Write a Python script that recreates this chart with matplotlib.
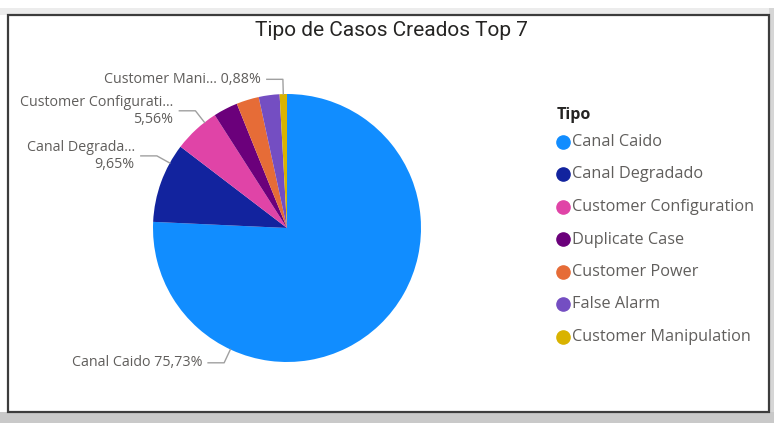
import numpy as np
import matplotlib
matplotlib.use("Agg")
from matplotlib import pyplot as plt
from matplotlib.patches import Rectangle

# data
categories = ["Canal Caido", "Canal Degradado", "Customer Configuration",
              "Duplicate Case", "Customer Power", "False Alarm", "Customer Manipulation"]
shares = [75.73, 9.65, 5.56, 2.95, 2.72, 2.51, 0.88]
colors = ["#118DFF", "#12239E", "#E044A7", "#6B007B", "#E66C37", "#744EC2", "#D9B300"]

# slice labels as shown (index, name text)
label_names = {0: "Canal Caido", 1: "Canal Degrada...", 2: "Customer Configurati...",
               6: "Customer Mani..."}
two_line = {1, 2}

W, H = 774, 423
CX, CY, R = 287, 228, 134   # pie centre / radius in pixels

plt.rcParams["font.family"] = ["Open Sans", "DejaVu Sans"]
fig = plt.figure(figsize=(W / 100, H / 100), dpi=100, facecolor="white")

# card frame with shadow
bg = fig.add_axes([0, 0, 1, 1])
bg.set_xlim(0, W)
bg.set_ylim(H, 0)
bg.axis("off")
bg.add_patch(Rectangle((0, 412), W, 11, color="#c9c9c9", lw=0))
bg.add_patch(Rectangle((0, 8), W, 7, color="#ececec", lw=0))
bg.add_patch(Rectangle((769, 8), 5, 404, color="#d6d6d6", lw=0))
bg.add_patch(Rectangle((8, 15), 761, 397, facecolor="white", edgecolor="#3c3c3c", lw=1.6))

bg.text(391, 30, "Tipo de Casos Creados Top 7", ha="center", va="center",
        fontsize=15, color="#252423", family="Roboto")

# pie axes: 1 data unit = R pixels
left_px, right_px, top_px, bot_px = 20, 540, 45, 405
ax = fig.add_axes([left_px / W, (H - bot_px) / H, (right_px - left_px) / W, (bot_px - top_px) / H])
wedges, _ = ax.pie(shares, colors=colors, startangle=90, counterclock=False,
                   wedgeprops=dict(linewidth=0))
ax.set_aspect("auto")
ax.set_xlim((left_px - CX) / R, (right_px - CX) / R)
ax.set_ylim((CY - bot_px) / R, (CY - top_px) / R)
ax.axis("off")

# leader lines and labels
cum = np.cumsum([0] + shares[:-1])
anchor_override = {0: 245.0, 1: 151.0, 2: 128.0}
for i, name in label_names.items():
    mid = 90 - (cum[i] + shares[i] / 2) * 3.6
    ang = np.deg2rad(anchor_override.get(i, mid))
    x0, y0 = np.cos(ang), np.sin(ang)
    x1, y1 = 1.11 * np.cos(ang), 1.11 * np.sin(ang)
    x2 = x1 - 0.12
    ax.plot([x0, x1, x2], [y0, y1, y1], color="#a0a0a0", lw=1, clip_on=False)
    pct = f"{shares[i]:.2f}%".replace(".", ",")
    txt = f"{name}\n{pct}" if i in two_line else f"{name} {pct}"
    ax.text(x2 - 0.045, y1, txt, ha="right", va="center", fontsize=10.3,
            color="#605E5C", linespacing=1.2, clip_on=False)

# legend
bg.text(557, 115, "Tipo", fontsize=11.5, fontweight="bold", color="#252423", va="center")
for k, (c, n) in enumerate(zip(categories, colors)):
    y = 142 + k * 32.5
    bg.plot(563, y, "o", color=n, markersize=9.5)
    bg.text(572, y, c, fontsize=11.7, color="#605E5C", va="center")

fig.savefig("out.png", dpi=100, facecolor=fig.get_facecolor())
